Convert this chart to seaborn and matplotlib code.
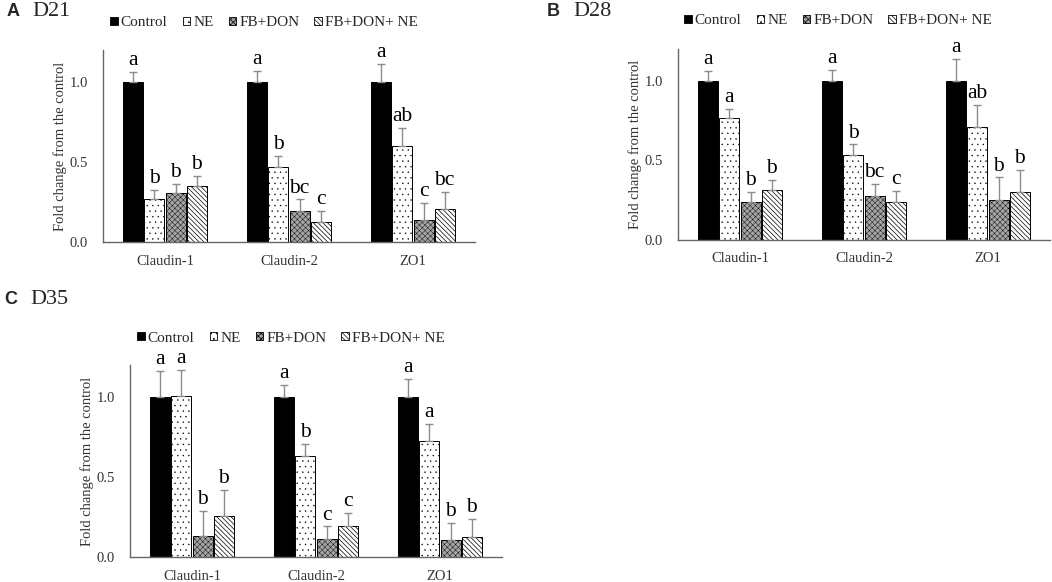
import numpy as np
import pandas as pd
import seaborn as sns
import matplotlib.pyplot as plt
from matplotlib.patches import Patch

sns.set_style('white')
plt.rcParams['font.family'] = ['Liberation Serif', 'DejaVu Serif']
plt.rcParams['hatch.linewidth'] = 0.5

#data
genes = ['Claudin-1', 'Claudin-2', 'ZO1']
groups = ['Control', 'NE', 'FB+DON', 'FB+DON+ NE']

d21_mean = [[1.0, 1.0, 1.0], [0.27, 0.47, 0.60], [0.305, 0.195, 0.135], [0.353, 0.127, 0.205]]
d21_err = [[0.06, 0.068, 0.11], [0.058, 0.068, 0.11], [0.06, 0.071, 0.11], [0.062, 0.068, 0.11]]
d21_sig = [['a', 'a', 'a'], ['b', 'b', 'ab'], ['b', 'bc', 'c'], ['b', 'c', 'bc']]

d28_mean = [[1.0, 1.0, 1.0], [0.765, 0.532, 0.711], [0.241, 0.279, 0.254], [0.316, 0.237, 0.301]]
d28_err = [[0.06, 0.07, 0.139], [0.06, 0.068, 0.139], [0.062, 0.072, 0.139], [0.06, 0.071, 0.14]]
d28_sig = [['a', 'a', 'a'], ['a', 'b', 'ab'], ['b', 'bc', 'b'], ['b', 'c', 'b']]

d35_mean = [[1.0, 1.0, 1.0], [1.006, 0.631, 0.724], [0.129, 0.112, 0.104], [0.257, 0.193, 0.124]]
d35_err = [[0.16, 0.077, 0.11], [0.162, 0.076, 0.11], [0.159, 0.079, 0.108], [0.16, 0.081, 0.115]]
d35_sig = [['a', 'a', 'a'], ['a', 'b', 'a'], ['b', 'c', 'b'], ['b', 'c', 'b']]

colors = ['black', 'white', '#a4a4a4', 'white']
hatches = ['', '...', 'xxxxxx', '\\\\\\\\\\\\\\']
hatch_lw = [0.5, 0.25, 0.3, 0.5]


def style_patch(p, g):
    p.set_hatch(hatches[g])
    if hasattr(p, 'set_hatch_linewidth'):
        p.set_hatch_linewidth(hatch_lw[g])


def draw_panel(fig, rect, mean, err, sig, letter, day, title_x, title_y, leg_xy):
    ax = fig.add_axes(rect)
    rows = []
    for g, grp in enumerate(groups):
        for k, gene in enumerate(genes):
            rows.append({'gene': gene, 'group': grp, 'value': mean[g][k]})
    df = pd.DataFrame(rows)
    sns.barplot(data=df, x='gene', y='value', hue='group', order=genes, hue_order=groups,
                palette=colors, width=0.68, gap=0.05, edgecolor='black', linewidth=0.7,
                errorbar=None, legend=False, saturation=1, ax=ax)
    bar_sets = list(ax.containers)[:4]
    for g, cont in enumerate(bar_sets):
        for k, bar in enumerate(cont.patches):
            style_patch(bar, g)
            xc = bar.get_x() + bar.get_width() / 2
            h = bar.get_height()
            ax.errorbar(xc, h, yerr=[[0], [err[g][k]]], fmt='none', ecolor='#8c8c8c',
                        elinewidth=1, capsize=3, capthick=1)
            ax.text(xc, h + err[g][k] + 0.012, sig[g][k], ha='center', va='bottom',
                    fontsize=15.5, color='black')
    ax.set_ylim(0, 1.2)
    ax.set_xlim(-0.5, 2.5)
    ax.set_yticks([0, 0.5, 1.0])
    ax.set_yticklabels(['0.0', '0.5', '1.0'])
    ax.set_xlabel('')
    ax.set_ylabel('Fold change from the control', fontsize=10.5, color='#333333', labelpad=2)
    ax.tick_params(axis='both', length=0, labelsize=10.5, labelcolor='#333333')
    ax.tick_params(axis='x', pad=9)
    ax.tick_params(axis='y', pad=11)
    sns.despine(ax=ax)
    for s in ['left', 'bottom']:
        ax.spines[s].set_color('#666666')
        ax.spines[s].set_linewidth(1)

    handles = []
    for g in range(4):
        p = Patch(facecolor=colors[g], edgecolor='black', linewidth=0.6, label=groups[g])
        style_patch(p, g)
        handles.append(p)
    ax.legend(handles=handles, loc='center', bbox_to_anchor=leg_xy, bbox_transform=fig.transFigure,
              ncol=4, frameon=False, fontsize=11, handlelength=0.48, handleheight=0.48,
              handletextpad=0.2, columnspacing=1.0, borderpad=0)

    fig.text(title_x, title_y, letter, fontsize=13, fontweight='bold',
             family='Liberation Sans', va='center', ha='left')
    fig.text(title_x + 0.025, title_y, day, fontsize=16, va='center', ha='left')
    return ax


fig = plt.figure(figsize=(10.52, 5.82), dpi=100)

draw_panel(fig, [103 / 1052, 1 - 242 / 582, 372 / 1052, 192 / 582],
           d21_mean, d21_err, d21_sig, 'A', 'D21', 0.006, 1 - 12 / 582, (264 / 1052, 1 - 23 / 582))
draw_panel(fig, [678 / 1052, 1 - 240 / 582, 372 / 1052, 191 / 582],
           d28_mean, d28_err, d28_sig, 'B', 'D28', 0.520, 1 - 12 / 582, (838 / 1052, 1 - 21 / 582))
draw_panel(fig, [130 / 1052, 1 - 557 / 582, 372 / 1052, 192 / 582],
           d35_mean, d35_err, d35_sig, 'C', 'D35', 0.004, 1 - 300 / 582, (291 / 1052, 1 - 338 / 582))

plt.savefig('out.png', dpi=100)
